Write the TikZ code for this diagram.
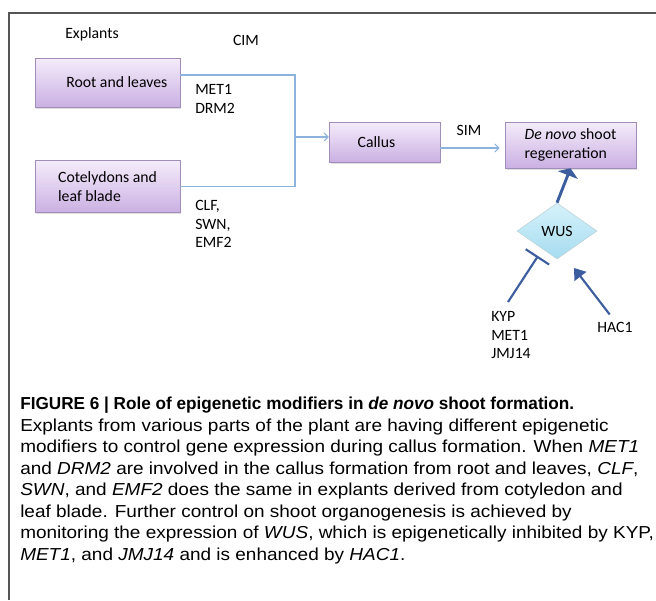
\documentclass[tikz,border=0pt]{standalone}
\usepackage{fontspec}
\setmainfont{Carlito}
\newfontfamily\capfont[FakeStretch=1.095,BoldFeatures={FakeStretch=0.99},BoldItalicFeatures={FakeStretch=0.99}]{Liberation Sans}
\usetikzlibrary{arrows.meta,positioning,shapes.geometric,shadows}
\definecolor{boxtop}{HTML}{F4ECFA}
\definecolor{boxbot}{HTML}{CBB0E3}
\definecolor{boxline}{HTML}{A08DBA}
\definecolor{linkblue}{HTML}{8CB3DE}
\definecolor{darkblue}{HTML}{3D5E9E}
\definecolor{wustop}{HTML}{D6F2FB}
\definecolor{wusbot}{HTML}{A6DCF0}
\definecolor{framegray}{HTML}{555555}

\begin{document}
\begin{tikzpicture}[x=0.75pt,y=-0.75pt,>=Latex,node distance=0.8cm,font=\fontsize{11.8}{14}\selectfont]
  \tikzstyle{box}=[draw=boxline,top color=boxtop,bottom color=boxbot,align=left,drop shadow={opacity=0.25,shadow xshift=1pt,shadow yshift=-1.2pt}]
  \tikzstyle{link}=[draw=linkblue,line width=0.8pt]
  \tikzstyle{genes}=[align=left,anchor=north west,inner sep=0pt]
  \tikzstyle{strong}=[draw=darkblue,line width=2.2pt]
  \useasboundingbox (0,0) rectangle (656,600);
  \draw[framegray,line width=1.5pt] (9,600) -- (9,12.5) -- (656,12.5);

  \node (explants) at (92,34) {Explants};
  \node (cim) at (246,40) {CIM};
  \node[box,minimum width=108.75pt,minimum height=36.75pt] (root) at (107.5,82.5) {\hspace{14pt}Root and leaves};
  \node[box,minimum width=108.75pt,minimum height=39pt] (cot) at (107.5,186.5) {Cotelydons and\\leaf blade};
  \node[box,minimum width=83pt,minimum height=30pt] (callus) at (384.5,142) {Callus\hspace{12pt}};
  \node[box,minimum width=98pt,minimum height=34.5pt] (denovo) at (570.5,145) {\textit{De novo} shoot\\regeneration};
  \node[diamond,draw=wustop!70!gray,top color=wustop,bottom color=wusbot,minimum width=60pt,minimum height=42pt,inner sep=0pt,aspect=1.43] (wus) at (557,231) {WUS};

  \node[genes] (metdrm) at (195,84) {MET1\\DRM2};
  \node[genes] (clf) at (195,200) {CLF,\\SWN,\\EMF2};
  \node (sim) at (469,130) {SIM};
  \node[genes] (kyp) at (491,311) {KYP\\MET1\\JMJ14};
  \node (hac) at (615,327) {HAC1};

  \coordinate (jtop) at (295,75);
  \coordinate (jbot) at (295,186.5);
  \coordinate (join) at (295,137);
  \draw[link] (root.east |- jtop) -- (jtop) -- (jbot) -- (cot.east);
  \draw[link,-{Straight Barb[length=3pt,width=6pt]}] (join) -- (join -| callus.west);
  \draw[link,-{Straight Barb[length=3pt,width=6pt]},shorten >=4pt] ([yshift=-4.5pt]callus.east) -- ([yshift=-4.5pt]callus.east -| denovo.west);
  \draw[strong,-{Triangle[width=16pt,length=5.5pt]}] (wus.north) -- (denovo.south);

  \coordinate (inhend) at (538,256);
  \coordinate (hacend) at (574,268);
  \draw[strong,line width=1.6pt,-{Bar[width=21pt]}] (508,302) -- (inhend);
  \draw[strong,line width=1.6pt,-{Triangle[width=11pt,length=8pt]}] ([xshift=-4pt,yshift=2pt]hac.north) -- (hacend);

  \node[anchor=north west,inner sep=0pt,align=left,font=\capfont\fontsize{13}{16.1}\selectfont] (caption) at (20,397)
  {\textbf{FIGURE 6 | Role of epigenetic modifiers in \textit{de novo} shoot formation.}\\
  Explants from various parts of the plant are having different epigenetic\\
  modifiers to control gene expression during callus formation. When \textit{MET1}\\
  and \textit{DRM2} are involved in the callus formation from root and leaves, \textit{CLF},\\
  \textit{SWN}, and \textit{EMF2} does the same in explants derived from cotyledon and\\
  leaf blade. Further control on shoot organogenesis is achieved by\\
  monitoring the expression of \textit{WUS}, which is epigenetically inhibited by KYP,\\
  \textit{MET1}, and \textit{JMJ14} and is enhanced by \textit{HAC1}.};
\end{tikzpicture}
\end{document}
